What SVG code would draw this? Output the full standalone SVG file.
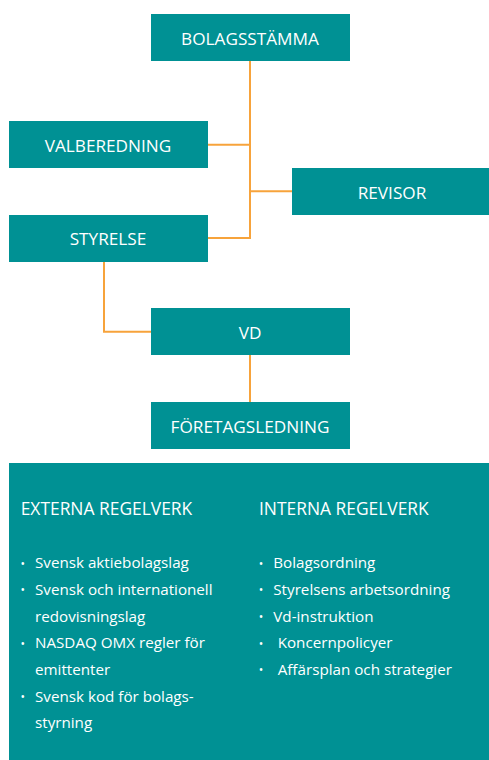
<svg xmlns="http://www.w3.org/2000/svg" width="489" height="760" viewBox="0 0 489 760">
<style>
.box{fill:#009194}
.lbl{font-family:"Open Sans","Noto Sans",sans-serif;font-size:17.2px;fill:#ffffff;text-anchor:middle}
.conn{stroke:#F7A33B;stroke-width:2;fill:none}
.hd{font-family:"Open Sans","Noto Sans",sans-serif;font-size:17.4px;fill:#ffffff}
.it{font-family:"Open Sans","Noto Sans",sans-serif;font-size:15.2px;fill:#ffffff}
.bl{font-family:"Open Sans","Noto Sans",sans-serif;font-size:12px;fill:#ffffff}
</style>
<rect width="489" height="760" fill="#ffffff"/>
<g id="connectors">
<path class="conn" d="M250 61 V238 H208"/>
<path class="conn" d="M208 144.7 H250"/>
<path class="conn" d="M250 191.3 H292"/>
<path class="conn" d="M104 262 V331.7 H151"/>
<path class="conn" d="M250 355 V402"/>
</g>
<g id="bolagsstamma"><rect class="box" x="151" y="14" width="199" height="47"/><text class="lbl" x="250" y="45">BOLAGSSTÄMMA</text></g>
<g id="valberedning"><rect class="box" x="9" y="121" width="199" height="47"/><text class="lbl" x="108" y="151.7">VALBEREDNING</text></g>
<g id="revisor"><rect class="box" x="292" y="168" width="197" height="47"/><text class="lbl" x="392" y="199">REVISOR</text></g>
<g id="styrelse"><rect class="box" x="9" y="215" width="199" height="47"/><text class="lbl" x="108" y="245">STYRELSE</text></g>
<g id="vd"><rect class="box" x="151" y="308" width="199" height="47"/><text class="lbl" x="250" y="339.3">VD</text></g>
<g id="foretagsledning"><rect class="box" x="151" y="402" width="199" height="47"/><text class="lbl" x="250" y="433">FÖRETAGSLEDNING</text></g>
<g id="regelverk">
<rect class="box" x="9" y="463" width="480" height="297"/>
<text class="hd" x="20.7" y="515">EXTERNA REGELVERK</text>
<text class="hd" x="259" y="515">INTERNA REGELVERK</text>
<g class="bl">
<text x="20.5" y="567.5">•</text>
<text x="20.5" y="594.2">•</text>
<text x="20.5" y="647.5">•</text>
<text x="20.5" y="700.9">•</text>
<text x="258.8" y="567.5">•</text>
<text x="258.8" y="594.2">•</text>
<text x="258.8" y="620.9">•</text>
<text x="258.8" y="647.5">•</text>
<text x="258.8" y="674.2">•</text>
</g>
<g class="it">
<text x="35" y="568.3">Svensk aktiebolagslag</text>
<text x="35" y="595">Svensk och internationell</text>
<text x="35" y="621.7">redovisningslag</text>
<text x="35" y="648.3">NASDAQ OMX regler för</text>
<text x="35" y="675">emittenter</text>
<text x="35" y="701.7">Svensk kod för bolags-</text>
<text x="35" y="728.3">styrning</text>
<text x="273.3" y="568.3">Bolagsordning</text>
<text x="273.3" y="595">Styrelsens arbetsordning</text>
<text x="273.3" y="621.7">Vd-instruktion</text>
<text x="277.7" y="648.3">Koncernpolicyer</text>
<text x="277.7" y="675">Affärsplan och strategier</text>
</g>
</g>
</svg>
